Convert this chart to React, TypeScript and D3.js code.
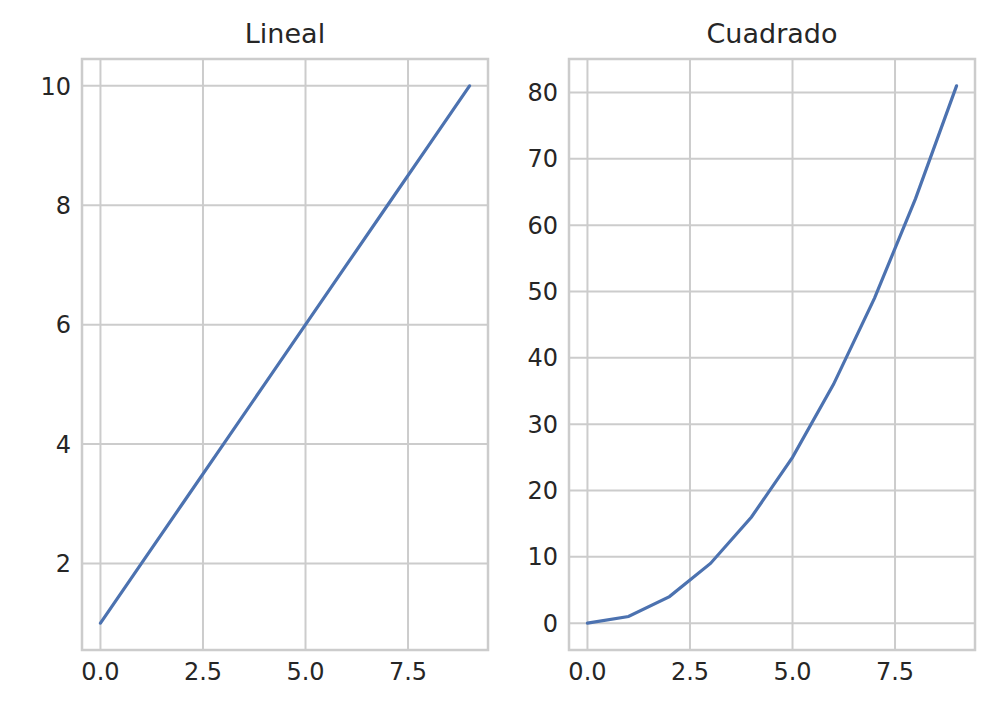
import * as d3 from 'd3';

const xs = [0, 1, 2, 3, 4, 5, 6, 7, 8, 9];
const lineal = [1, 2, 3, 4, 5, 6, 7, 8, 9, 10];
const cuadrado = [0, 1, 4, 9, 16, 25, 36, 49, 64, 81];
const xTicks = [0, 2.5, 5, 7.5];
const linealTicks = [2, 4, 6, 8, 10];
const cuadradoTicks = [0, 10, 20, 30, 40, 50, 60, 70, 80];

const width = 993;
const height = 723;
const top = 59;
const bottom = 650;

type PanelProps = {
  title: string
  values: number[]
  yTicks: number[]
  left: number
  right: number
}

const Panel = ({ title, values, yTicks, left, right }: PanelProps) => {
  const x = d3.scaleLinear().domain([-0.45, 9.45]).range([left, right]);
  const [lo, hi] = d3.extent(values) as [number, number];
  const pad = (hi - lo) * 0.05;
  const y = d3.scaleLinear().domain([lo - pad, hi + pad]).range([bottom, top]);
  const line = d3.line<number>().x((_, i) => x(xs[i])).y((d) => y(d));
  const fmtX = (v: number) => v.toFixed(1);
  return (
    <g>
      {xTicks.map((t) => (
        <g key={'x' + t}>
          <line x1={x(t)} x2={x(t)} y1={top} y2={bottom} stroke="#cccccc" strokeWidth={2} />
          <text x={x(t)} y={bottom + 12} dy="0.76em" textAnchor="middle" fontSize={24} fill="#262626">{fmtX(t)}</text>
        </g>
      ))}
      {yTicks.map((t) => (
        <g key={'y' + t}>
          <line x1={left} x2={right} y1={y(t)} y2={y(t)} stroke="#cccccc" strokeWidth={2} />
          <text x={left - 11} y={y(t)} dy="0.36em" textAnchor="end" fontSize={24} fill="#262626">{t}</text>
        </g>
      ))}
      <rect x={left} y={top} width={right - left} height={bottom - top} fill="none" stroke="#cccccc" strokeWidth={2.5} />
      <path d={line(values)!} fill="none" stroke="#4c72b0" strokeWidth={3.2} strokeLinecap="round" />
      <text x={(left + right) / 2} y={top - 16} textAnchor="middle" fontSize={27} fill="#262626">{title}</text>
    </g>
  );
};

export default function App() {
  return (
    <svg width={width} height={height} style={{ position: 'absolute', left: 0, top: 0, background: '#fff' }}
      fontFamily="DejaVu Sans, sans-serif">
      <Panel title="Lineal" values={lineal} yTicks={linealTicks} left={82} right={488} />
      <Panel title="Cuadrado" values={cuadrado} yTicks={cuadradoTicks} left={569} right={975} />
    </svg>
  );
}
